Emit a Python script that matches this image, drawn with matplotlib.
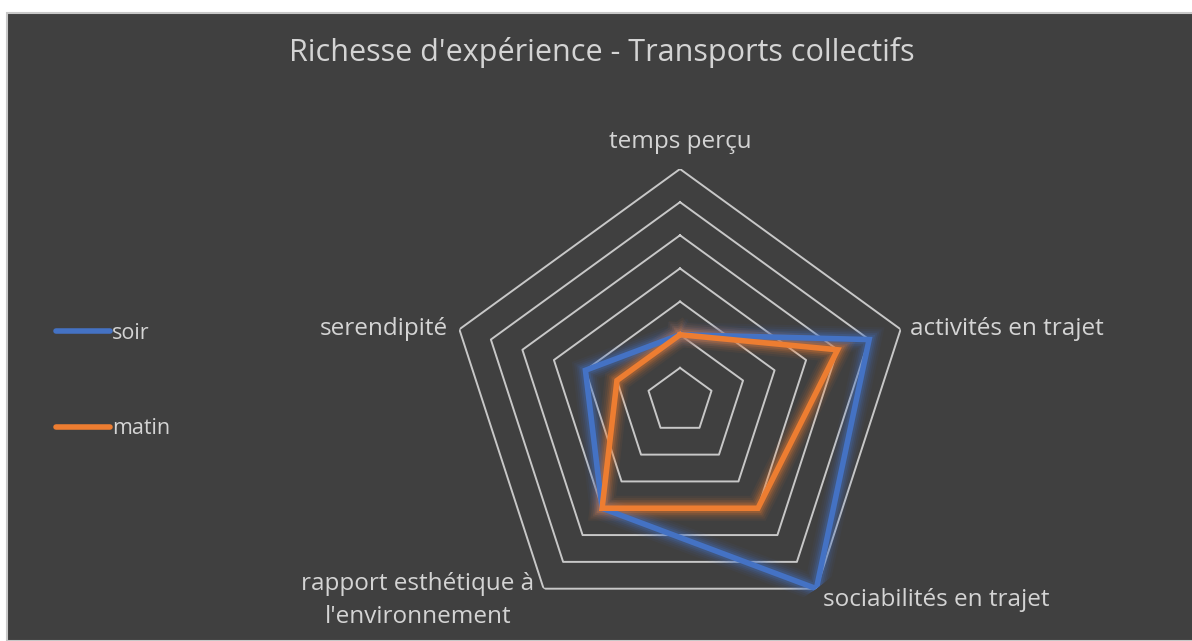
import numpy as np
import matplotlib
matplotlib.use("Agg")
import matplotlib.pyplot as plt
from matplotlib.patches import Rectangle

# ---- data ----
categories = ["temps perçu", "activités en trajet", "sociabilités en trajet",
              "rapport esthétique à\nl'environnement", "serendipité"]
soir = [2, 6, 7, 4, 3]
matin = [2, 5, 4, 4, 2]
ring_levels = [1, 2, 3, 4, 5, 6, 7]
series_names = ["soir", "matin"]
title = "Richesse d'expérience - Transports collectifs"

BG = "#404040"
TXT = "#d4d4d4"
GRID = "#c8c8c8"
BLUE = "#4472C4"
ORANGE = "#ED7D31"
FONT = ["Open Sans", "DejaVu Sans"]

W, H = 1192, 641
fig = plt.figure(figsize=(W / 100, H / 100), dpi=100, facecolor="white")
fig.patches.append(Rectangle((7 / W, 0), 1.1, 1 - 13 / H, transform=fig.transFigure,
                             facecolor=BG, edgecolor="#c8c8c8", linewidth=1.5, zorder=-10))

cx, cy, R = 680, 401, 232
ax = fig.add_axes([(cx - R) / W, 1 - (cy + R) / H, 2 * R / W, 2 * R / H], projection="polar")
ax.set_facecolor("none")
ax.patch.set_visible(False)
ax.set_theta_offset(np.pi / 2)
ax.set_theta_direction(-1)
ax.set_ylim(0, 7)
ax.grid(False)
ax.spines["polar"].set_visible(False)
ax.set_xticks([])
ax.set_yticks([])

n = len(categories)
theta = np.linspace(0, 2 * np.pi, n, endpoint=False)
theta_c = np.append(theta, theta[0])

for lv in ring_levels:
    ax.plot(theta_c, [lv] * (n + 1), color=GRID, lw=1.4, zorder=1)

def glow_line(vals, color, label):
    v = np.append(vals, vals[0])
    for w, a in [(18, 0.06), (15, 0.08), (12, 0.11), (9.5, 0.15), (7, 0.22)]:
        ax.plot(theta_c, v, color=color, lw=w, alpha=a, solid_joinstyle="miter", zorder=2)
    ax.plot(theta_c, v, color=color, lw=4.0, solid_joinstyle="miter", zorder=3, label=label)

glow_line(soir, BLUE, series_names[0])
glow_line(matin, ORANGE, series_names[1])

# category labels (offsets in points from each outer vertex)
offsets = [(0, 19.5, "center"), (7, 0, "left"),
           (5, -8.5, "left"), (-6.5, -8.5, "right"),
           (-8, 0, "right")]
for t, lab, (dx, dy, ha) in zip(theta, categories, offsets):
    ax.annotate(lab, xy=(t, 7), xytext=(dx, dy), textcoords="offset points",
                ha=ha, va="center", color=TXT, fontsize=17.5, family=FONT,
                multialignment="center", linespacing=1.5, annotation_clip=False)

fig.text(602 / W, 1 - 53 / H, title, ha="center", va="center", color=TXT,
         fontsize=22, family=FONT)

leg = ax.legend(loc="center left", bbox_to_anchor=(37 / W, 1 - 381 / H),
                bbox_transform=fig.transFigure, frameon=False,
                handlelength=2.5, handletextpad=0.1, labelspacing=3.45,
                prop={"family": FONT, "size": 15.5})
for txt in leg.get_texts():
    txt.set_color(TXT)
for h in leg.legend_handles:
    h.set_linewidth(4)
    h.set_solid_capstyle("round")

fig.savefig("out.png", dpi=100, facecolor="white")
